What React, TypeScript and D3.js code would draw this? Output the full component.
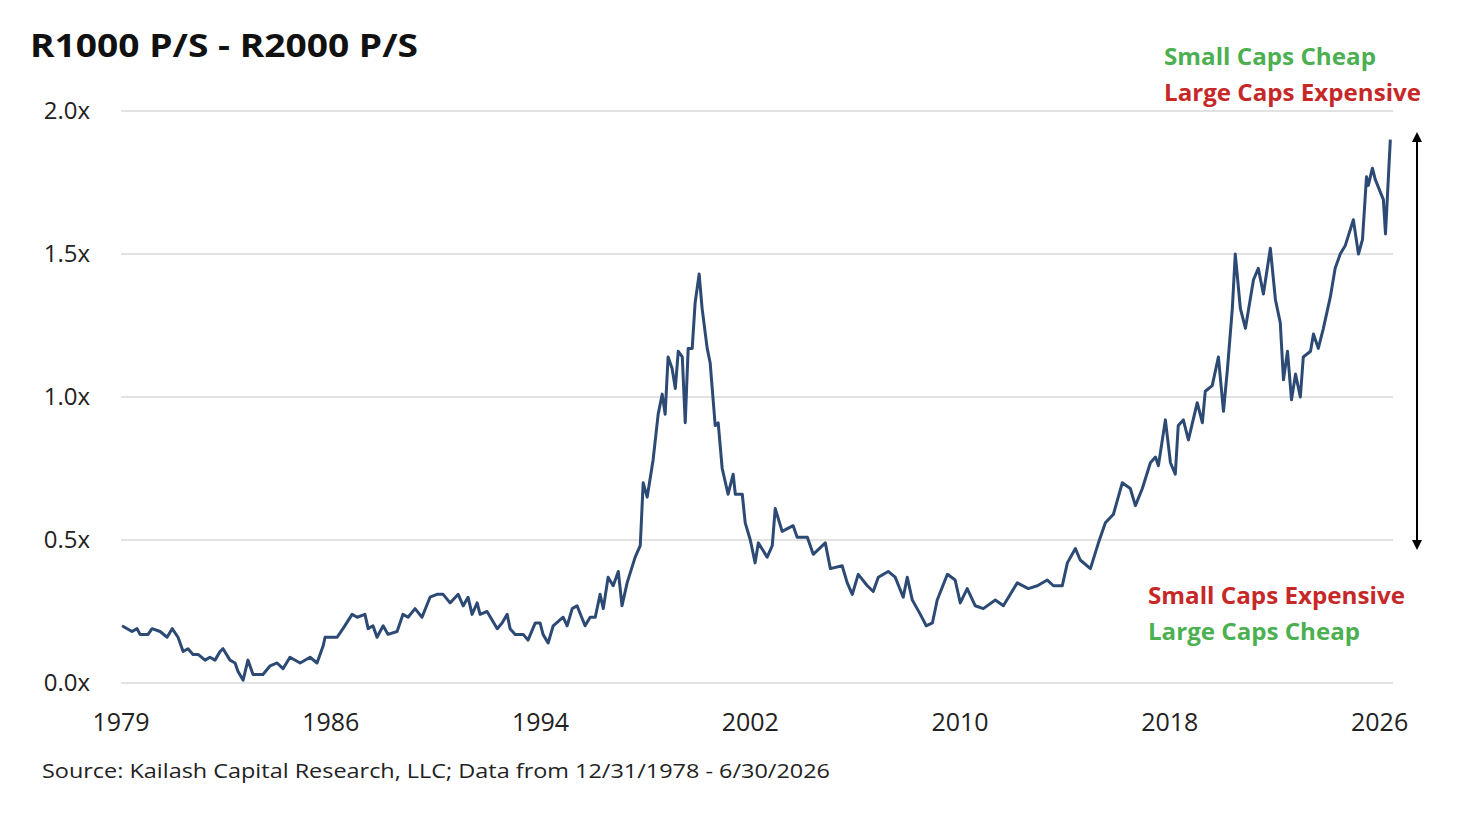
import React from "react";
import * as d3 from "d3";

// (decimal year, ratio)
const years = [
  1979.04, 1979.41, 1979.6, 1979.71, 1980.01, 1980.16, 1980.46, 1980.72, 1980.91, 1981.13, 1981.32, 1981.5,
  1981.69, 1981.88, 1982.14, 1982.32, 1982.51, 1982.7, 1982.81, 1983.07, 1983.26, 1983.37, 1983.56, 1983.74,
  1983.93, 1984.3, 1984.57, 1984.83, 1985.05, 1985.31, 1985.69, 1986.06, 1986.32, 1986.55, 1986.62, 1987.07,
  1987.29, 1987.63, 1987.82, 1988.11, 1988.23, 1988.41, 1988.56, 1988.79, 1988.97, 1989.31, 1989.53, 1989.72,
  1989.98, 1990.24, 1990.54, 1990.8, 1991.03, 1991.29, 1991.59, 1991.78, 1991.96, 1992.11, 1992.3, 1992.41,
  1992.67, 1993.05, 1993.23, 1993.42, 1993.53, 1993.72, 1994.02, 1994.2, 1994.47, 1994.65, 1994.76, 1994.95,
  1995.14, 1995.51, 1995.66, 1995.85, 1996.03, 1996.33, 1996.52, 1996.71, 1996.89, 1997.01, 1997.19, 1997.38,
  1997.57, 1997.71, 1997.9, 1998.2, 1998.39, 1998.5, 1998.65, 1998.87, 1999.06, 1999.21, 1999.32, 1999.43,
  1999.58, 1999.7, 1999.81, 1999.96, 2000.07, 2000.18, 2000.33, 2000.44, 2000.59, 2000.7, 2000.89, 2001.0,
  2001.19, 2001.3, 2001.45, 2001.67, 2001.86, 2001.94, 2002.2, 2002.31, 2002.5, 2002.68, 2002.8, 2003.13,
  2003.32, 2003.43, 2003.69, 2004.1, 2004.25, 2004.63, 2004.85, 2005.3, 2005.49, 2005.93, 2006.12, 2006.31,
  2006.53, 2006.87, 2007.09, 2007.28, 2007.65, 2007.91, 2008.21, 2008.36, 2008.55, 2008.85, 2009.07, 2009.3,
  2009.48, 2009.86, 2010.15, 2010.34, 2010.6, 2010.9, 2011.2, 2011.65, 2011.95, 2012.21, 2012.47, 2012.88,
  2013.22, 2013.59, 2013.82, 2014.15, 2014.34, 2014.64, 2014.82, 2015.2, 2015.5, 2015.76, 2016.06, 2016.39,
  2016.69, 2016.88, 2017.14, 2017.44, 2017.63, 2017.74, 2018.0, 2018.19, 2018.37, 2018.48, 2018.67, 2018.86,
  2019.19, 2019.38, 2019.49, 2019.75, 2019.98, 2020.17, 2020.32, 2020.5, 2020.61, 2020.8, 2020.99, 2021.29,
  2021.47, 2021.66, 2021.92, 2022.11, 2022.29, 2022.41, 2022.56, 2022.71, 2022.86, 2023.04, 2023.15, 2023.42,
  2023.53, 2023.71, 2023.9, 2024.16, 2024.34, 2024.53, 2024.72, 2025.02, 2025.21, 2025.36, 2025.51, 2025.58,
  2025.73, 2025.84, 2026.14, 2026.22, 2026.4,
];
const ratios = [
  0.2, 0.18, 0.19, 0.17, 0.17, 0.19, 0.18, 0.16, 0.19, 0.16, 0.11, 0.12,
  0.1, 0.1, 0.08, 0.09, 0.08, 0.11, 0.12, 0.08, 0.07, 0.04, 0.01, 0.08,
  0.03, 0.03, 0.06, 0.07, 0.05, 0.09, 0.07, 0.09, 0.07, 0.13, 0.16, 0.16,
  0.19, 0.24, 0.23, 0.24, 0.19, 0.2, 0.16, 0.2, 0.17, 0.18, 0.24, 0.23,
  0.26, 0.23, 0.3, 0.31, 0.31, 0.28, 0.31, 0.27, 0.3, 0.24, 0.28, 0.24,
  0.25, 0.19, 0.21, 0.24, 0.19, 0.17, 0.17, 0.15, 0.21, 0.21, 0.17, 0.14,
  0.2, 0.23, 0.2, 0.26, 0.27, 0.2, 0.23, 0.23, 0.31, 0.26, 0.37, 0.34,
  0.39, 0.27, 0.35, 0.44, 0.48, 0.7, 0.65, 0.78, 0.94, 1.01, 0.94, 1.14,
  1.1, 1.03, 1.16, 1.14, 0.91, 1.17, 1.17, 1.33, 1.43, 1.31, 1.17, 1.12,
  0.9, 0.91, 0.75, 0.66, 0.73, 0.66, 0.66, 0.56, 0.5, 0.42, 0.49, 0.44,
  0.48, 0.61, 0.53, 0.55, 0.51, 0.51, 0.45, 0.49, 0.4, 0.41, 0.35, 0.31,
  0.38, 0.34, 0.32, 0.37, 0.39, 0.37, 0.3, 0.37, 0.29, 0.24, 0.2, 0.21,
  0.29, 0.38, 0.36, 0.28, 0.33, 0.27, 0.26, 0.29, 0.27, 0.31, 0.35, 0.33,
  0.34, 0.36, 0.34, 0.34, 0.42, 0.47, 0.43, 0.4, 0.49, 0.56, 0.59, 0.7,
  0.68, 0.62, 0.68, 0.77, 0.79, 0.76, 0.92, 0.77, 0.73, 0.9, 0.92, 0.85,
  0.98, 0.91, 1.02, 1.04, 1.14, 0.95, 1.1, 1.31, 1.5, 1.31, 1.24, 1.41,
  1.45, 1.36, 1.52, 1.34, 1.26, 1.06, 1.16, 0.99, 1.08, 1.0, 1.14, 1.16,
  1.22, 1.17, 1.24, 1.35, 1.45, 1.5, 1.53, 1.62, 1.5, 1.55, 1.77, 1.74,
  1.8, 1.76, 1.69, 1.57, 1.9,
];
// category-axis labels fall every 94 months starting at 1979
const xTicks = [0, 1, 2, 3, 4, 5, 6].map((k) => 1979 + (k * 94) / 12);
const yTicks = [0, 0.5, 1, 1.5, 2];

const W = 1462;
const H = 814;
const font = "'Open Sans', sans-serif";

export default function App() {
  const x = d3.scaleLinear().domain([1979, 2026.5]).range([121, 1393]);
  const y = d3.scaleLinear().domain([0, 2]).range([683, 111]);
  const line = d3
    .line<number>()
    .x((_, i) => x(years[i]))
    .y((d) => y(d));

  return (
    <svg width={W} height={H} style={{ display: "block", margin: "-8px 0 0 -8px" }} fontFamily={font}>
      <rect width={W} height={H} fill="#fff" />
      <text x={30} y={57} fontSize={32} fontWeight="bold" fill="#111" textLength={388} lengthAdjust="spacingAndGlyphs">
        R1000 P/S - R2000 P/S
      </text>
      {yTicks.map((t) => (
        <g key={t}>
          <line x1={121} x2={1393} y1={y(t)} y2={y(t)} stroke="#d9d9d9" strokeWidth={1.5} />
          <text x={90} y={y(t) + 8} fontSize={24} textAnchor="end" fill="#222">
            {t.toFixed(1)}x
          </text>
        </g>
      ))}
      {xTicks.map((t) => (
        <text key={t} x={x(t)} y={731} fontSize={25} textAnchor="middle" fill="#222">
          {Math.floor(t)}
        </text>
      ))}
      <path d={line(ratios) ?? ""} fill="none" stroke="#2c4a74" strokeWidth={3} strokeLinejoin="round" />
      <defs>
        <marker id="ah" viewBox="0 0 10 10" refX={5} refY={5} markerWidth={5} markerHeight={5} orient="auto-start-reverse">
          <path d="M0,0 L10,5 L0,10 z" fill="#000" />
        </marker>
      </defs>
      <line x1={1417} x2={1417} y1={137} y2={545} stroke="#000" strokeWidth={2} markerStart="url(#ah)" markerEnd="url(#ah)" />
      <g fontSize={23} fontWeight="bold" lengthAdjust="spacingAndGlyphs">
        <text x={1164} y={65} fill="#4caf50" textLength={212} lengthAdjust="spacingAndGlyphs">Small Caps Cheap</text>
        <text x={1164} y={101} fill="#c62828" textLength={257} lengthAdjust="spacingAndGlyphs">Large Caps Expensive</text>
        <text x={1148} y={604} fill="#c62828" textLength={257} lengthAdjust="spacingAndGlyphs">Small Caps Expensive</text>
        <text x={1148} y={640} fill="#4caf50" textLength={212} lengthAdjust="spacingAndGlyphs">Large Caps Cheap</text>
      </g>
      <text x={42} y={778} fontSize={20} fill="#222" textLength={788} lengthAdjust="spacingAndGlyphs">
        Source: Kailash Capital Research, LLC; Data from 12/31/1978 - 6/30/2026
      </text>
    </svg>
  );
}
